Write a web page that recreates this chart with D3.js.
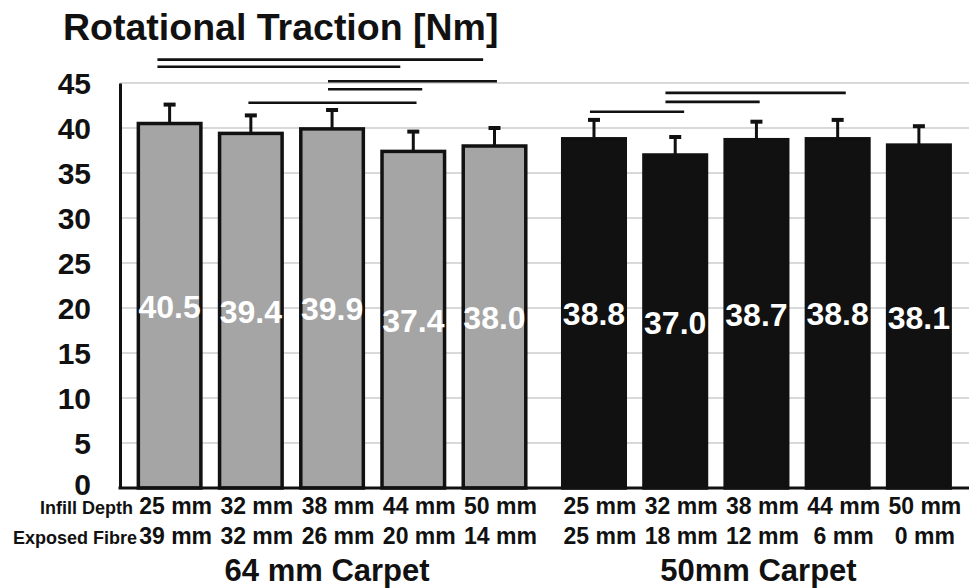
<!DOCTYPE html>
<html><head><meta charset="utf-8">
<script src="https://cdn.jsdelivr.net/npm/d3@7"></script>
<style>
html,body{margin:0;padding:0;background:#fff;}
svg{display:block;}
text{font-family:"Liberation Sans",Arial,sans-serif;font-weight:bold;}
</style>
</head><body>
<svg id="chart" width="969" height="588"></svg>
<script>
// ---- data ----
const groups = ["64 mm Carpet", "50mm Carpet"];
const infillDepth = ["25 mm", "32 mm", "38 mm", "44 mm", "50 mm"];
const exposedFibre64 = ["39 mm", "32 mm", "26 mm", "20 mm", "14 mm"];
const exposedFibre50 = ["25 mm", "18 mm", "12 mm", "6 mm", "0 mm"];
const values64 = [40.5, 39.4, 39.9, 37.4, 38.0];
const values50 = [38.8, 37.0, 38.7, 38.8, 38.1];
const sd64 = [2.1, 2.0, 2.1, 2.2, 2.0];
const sd50 = [2.1, 2.0, 2.0, 2.1, 2.1];
const yTicks = [0, 5, 10, 15, 20, 25, 30, 35, 40, 45];
// significance bars: group, from/to (bar position), level (Nm)
const sigGroup = [0, 0, 0, 0, 0, 1, 1, 1];
const sigFrom = [-0.15, -0.15, 1.95, 1.95, 0.97, 0.88, 0.88, -0.05];
const sigTo = [3.86, 2.84, 4.03, 3.11, 3.04, 3.10, 2.04, 1.11];
const sigLevel = [47.6, 46.8, 45.2, 44.3, 42.8, 43.9, 42.9, 41.8];
const title = "Rotational Traction [Nm]";

// ---- build ----
const values = [values64, values50];
const sds = [sd64, sd50];
const exposed = [exposedFibre64, exposedFibre50];
const fills = ["#a5a5a5", "#111111"];

const svg = d3.select("#chart");
svg.append("rect").attr("width", 969).attr("height", 588).attr("fill", "#fff");

const x0 = d3.scaleBand().domain(groups).range([129, 959.5]).paddingInner(0.043);
const x1 = d3.scaleBand().domain(d3.range(5)).range([0, x0.bandwidth()])
  .paddingInner(0.23).paddingOuter(0.115);
const y = d3.scaleLinear().domain([0, 45]).range([488, 83]);
const axisX = 120;

const cx = (g, i) => x0(groups[g]) + x1(i) + x1.bandwidth() / 2;

// gridlines
svg.append("g").selectAll("line").data(yTicks.filter(t => t > 0)).join("line")
  .attr("x1", axisX).attr("x2", 969)
  .attr("y1", d => y(d)).attr("y2", d => y(d))
  .attr("stroke", "#d9d9d9").attr("stroke-width", 2);

// bars
const barData = [];
groups.forEach((g, gi) => values[gi].forEach((v, i) => barData.push({gi, i, v, sd: sds[gi][i]})));

svg.append("g").selectAll("rect").data(barData).join("rect")
  .attr("x", d => x0(groups[d.gi]) + x1(d.i))
  .attr("width", x1.bandwidth())
  .attr("y", d => y(d.v))
  .attr("height", d => y(0) - y(d.v))
  .attr("fill", d => fills[d.gi])
  .attr("stroke", "#111").attr("stroke-width", 3.5);

// error bars
const eb = svg.append("g").attr("stroke", "#111");
eb.selectAll("line.stem").data(barData).join("line").attr("class", "stem")
  .attr("x1", d => cx(d.gi, d.i)).attr("x2", d => cx(d.gi, d.i))
  .attr("y1", d => y(d.v)).attr("y2", d => y(d.v + d.sd))
  .attr("stroke-width", 3);
eb.selectAll("line.cap").data(barData).join("line").attr("class", "cap")
  .attr("x1", d => cx(d.gi, d.i) - 6).attr("x2", d => cx(d.gi, d.i) + 6)
  .attr("y1", d => y(d.v + d.sd)).attr("y2", d => y(d.v + d.sd))
  .attr("stroke-width", 4);

// value labels
svg.append("g").selectAll("text").data(barData).join("text")
  .attr("x", d => cx(d.gi, d.i))
  .attr("y", d => y(d.v / 2) + 12)
  .attr("text-anchor", "middle")
  .attr("fill", "#fff").attr("font-size", 32)
  .text(d => d.v.toFixed(1));

// significance lines
svg.append("g").selectAll("line").data(sigLevel.map((lv, k) => k)).join("line")
  .attr("x1", k => cx(sigGroup[k], 0) + sigFrom[k] * x1.step())
  .attr("x2", k => cx(sigGroup[k], 0) + sigTo[k] * x1.step())
  .attr("y1", k => y(sigLevel[k])).attr("y2", k => y(sigLevel[k]))
  .attr("stroke", "#111").attr("stroke-width", 2.6);

// y axis
const yAxis = svg.append("g").attr("transform", `translate(${axisX},0)`)
  .call(d3.axisLeft(y).tickValues(yTicks).tickSize(0).tickSizeOuter(0).tickPadding(29));
yAxis.select(".domain").attr("stroke", "#111").attr("stroke-width", 3);
yAxis.selectAll("text").attr("font-size", 30).attr("fill", "#111")
  .attr("font-family", "'Liberation Sans', Arial, sans-serif").attr("font-weight", "bold")
  .attr("dy", d => d === 0 ? "0.22em" : "0.34em");

// x baseline
svg.append("line").attr("x1", axisX - 1.5).attr("x2", 969)
  .attr("y1", y(0)).attr("y2", y(0))
  .attr("stroke", "#111").attr("stroke-width", 3);

// category rows
const rowInfillY = 514, rowExposedY = 544;
groups.forEach((g, gi) => {
  svg.append("g").selectAll("text").data(infillDepth).join("text")
    .attr("x", (d, i) => cx(gi, i) + 6).attr("y", rowInfillY)
    .attr("text-anchor", "middle").attr("font-size", 23).attr("fill", "#111")
    .text(d => d);
  svg.append("g").selectAll("text").data(exposed[gi]).join("text")
    .attr("x", (d, i) => cx(gi, i) + 6).attr("y", rowExposedY)
    .attr("text-anchor", "middle").attr("font-size", 23).attr("fill", "#111")
    .text(d => d);
  svg.append("text").attr("x", x0(g) + x0.bandwidth() / 2 + (gi === 0 ? -5 : 2)).attr("y", 581)
    .attr("text-anchor", "middle").attr("font-size", 31).attr("fill", "#111")
    .text(g);
});
svg.append("text").attr("x", 133).attr("y", rowInfillY).attr("text-anchor", "end")
  .attr("font-size", 18).attr("fill", "#111").text("Infill Depth");
svg.append("text").attr("x", 137).attr("y", rowExposedY).attr("text-anchor", "end")
  .attr("font-size", 18).attr("fill", "#111").text("Exposed Fibre");

// title
svg.append("text").attr("x", 63).attr("y", 39.5).attr("font-size", 37.5).attr("fill", "#111")
  .text(title);
</script>
</body></html>
